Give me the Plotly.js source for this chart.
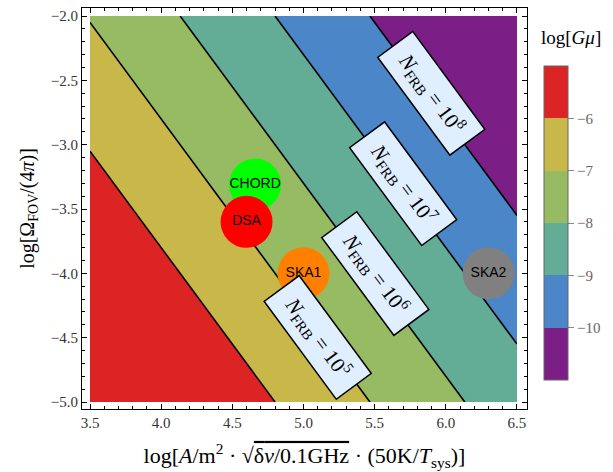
<!DOCTYPE html>
<html>
<head>
<meta charset="utf-8">
<script src="https://cdn.plot.ly/plotly-3.0.1.min.js"></script>
<style>html,body{margin:0;padding:0;background:#fff;}#chart{width:613px;height:472px;}</style>
</head>
<body>
<div id="chart"></div>
<script>
// log[Gμ] read at the corners of the plotted region
var gridX = [3.5, 6.5];
var gridY = [-5.0, -2.0];
var gridZ = [[-4.05, -8.55], [-7.05, -11.55]];

// contour levels (log Gμ) and band colours (purple .. red)
var levelStart = -10, levelEnd = -6, levelStep = 1;
var colorbarMin = -11, colorbarMax = -5;
var bandColors = ['#7b1f86', '#4a86c8', '#63ad96', '#97bb62', '#c8b84a', '#dc2424'];
var colorbarTicks = [-10, -9, -8, -7, -6];

// experiments
var expNames = ['CHORD', 'DSA', 'SKA1', 'SKA2'];
var expX = [4.66, 4.60, 5.00, 6.30];
var expY = [-3.31, -3.60, -4.00, -4.00];
var expColors = ['#00ff00', '#ff0000', '#ff8000', '#808080'];

// N_FRB contour labels
var nfrbPowers = ['5', '6', '7', '8'];
var nfrbX = [5.10, 5.505, 5.70, 5.90];
var nfrbY = [-4.50, -4.00, -3.30, -2.60];

var serif = 'Liberation Serif, Times New Roman, serif';

var n = bandColors.length;
var colorscale = bandColors.map(function (c, i) { return [i / (n - 1), c]; });

var fillTrace = {
  type: 'contour', x: gridX, y: gridY, z: gridZ,
  autocontour: false,
  zauto: false, zmin: colorbarMin, zmax: colorbarMax,
  contours: {start: levelStart, end: levelEnd, size: levelStep, coloring: 'fill', showlines: false},
  colorscale: colorscale,
  line: {width: 0},
  hoverinfo: 'skip',
  colorbar: {
    x: (544 - 82) / 445, xanchor: 'left', xpad: 0,
    y: (409 - 66) / 401, yanchor: 'top', ypad: 0,
    len: 314, lenmode: 'pixels',
    thickness: 24, thicknessmode: 'pixels',
    outlinewidth: 1, outlinecolor: '#666',
    borderwidth: 0,
    tickmode: 'array', tickvals: colorbarTicks,
    ticks: 'outside', ticklen: 6, tickcolor: '#888', tickwidth: 1,
    tickfont: {family: serif, size: 15, color: '#666'}
  }
};

var lineTrace = {
  type: 'contour', x: gridX, y: gridY, z: gridZ,
  autocontour: false,
  contours: {start: levelStart, end: levelEnd, size: levelStep, coloring: 'none', showlines: true},
  line: {color: 'black', width: 1.6},
  showscale: false,
  hoverinfo: 'skip'
};

var expTrace = {
  type: 'scatter', mode: 'markers+text',
  x: expX, y: expY, text: expNames,
  textposition: 'middle center',
  textfont: {family: 'Liberation Sans, Arial, sans-serif', size: 14, color: 'black'},
  marker: {size: 52, color: expColors, line: {width: 0}},
  showlegend: false, cliponaxis: false
};

var annotations = nfrbPowers.map(function (p, i) {
  return {
    x: nfrbX[i], y: nfrbY[i], xref: 'x', yref: 'y',
    text: '<i>N</i><sub>FRB</sub> = 10<sup>' + p + '</sup>',
    showarrow: false, textangle: 53.6,
    font: {family: serif, size: 21, color: 'black'},
    bgcolor: '#e0efff', bordercolor: 'black', borderwidth: 1.5, borderpad: 8,
    width: 104, height: 26, align: 'center', valign: 'middle'
  };
});
annotations.push({
  xref: 'paper', yref: 'paper', x: (571 - 82) / 445, y: (409 - 37) / 401,
  xanchor: 'center', yanchor: 'middle', showarrow: false,
  text: 'log[<i>Gμ</i>]', font: {family: serif, size: 19, color: 'black'}
});

var axisCommon = {
  showgrid: false, zeroline: false, showline: true, linecolor: 'black', linewidth: 1,
  mirror: 'allticks', ticks: 'inside', ticklen: 5, tickwidth: 1, tickcolor: 'black',
  dtick: 0.5, tickformat: '.1f',
  minor: {ticks: 'inside', ticklen: 3, dtick: 0.1, tickcolor: 'black', tickwidth: 1},
  tickfont: {family: serif, size: 15, color: '#333'}
};

var layout = {
  width: 613, height: 472,
  margin: {l: 82, r: 86, t: 8, b: 63},
  paper_bgcolor: 'white', plot_bgcolor: 'white',
  showlegend: false,
  xaxis: Object.assign({}, axisCommon, {
    range: [3.4438, 6.5703], tick0: 3.5,
    title: {text: 'log[<i>A</i>/m<sup>2</sup> · √<span style="text-decoration:overline">δ<i>v</i>/0.1GHz</span> · (50K/<i>T</i><sub>sys</sub>)]',
      font: {family: serif, size: 22, color: 'black'}, standoff: 17}
  }),
  yaxis: Object.assign({}, axisCommon, {
    range: [-5.0544, -1.9378], tick0: -5,
    title: {text: 'log[Ω<sub>FOV</sub>/(4<i>π</i>)]',
      font: {family: serif, size: 20, color: 'black'}, standoff: 10}
  }),
  annotations: annotations
};

Plotly.newPlot('chart', [fillTrace, lineTrace, expTrace], layout, {displayModeBar: false, staticPlot: true});
</script>
</body>
</html>
